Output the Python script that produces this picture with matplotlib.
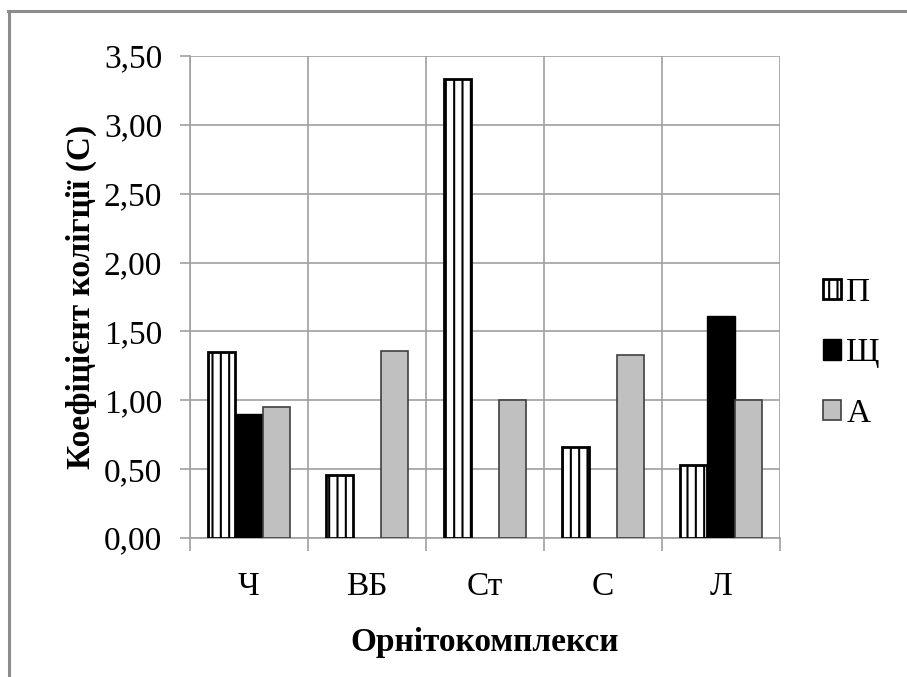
import numpy as np
import matplotlib.pyplot as plt
from matplotlib.lines import Line2D

plt.rcParams['font.family'] = ['Liberation Serif', 'DejaVu Serif']
plt.rcParams['hatch.linewidth'] = 1.5

categories = ['Ч', 'ВБ', 'Ст', 'С', 'Л']
series_names = ['П', 'Щ', 'А']
p_vals = [1.35, 0.46, 3.33, 0.66, 0.53]
sh_vals = [0.90, 0.00, 0.00, 0.00, 1.61]
a_vals = [0.95, 1.36, 1.00, 1.33, 1.00]

fig = plt.figure(figsize=(9.07, 6.77), dpi=100)
ax = fig.add_axes([190 / 907, 1 - 538 / 677, 590 / 907, 482 / 677])

# outer frame (top and left only, the rest is cut off)
fig.add_artist(Line2D([9 / 907, 9 / 907], [0, 1 - 11 / 677], transform=fig.transFigure, color='#8c8c8c', lw=2.2))
fig.add_artist(Line2D([8 / 907, 1], [1 - 11 / 677, 1 - 11 / 677], transform=fig.transFigure, color='#8c8c8c', lw=2.2))

x = np.arange(len(categories))
w = 0.23
ax.bar(x - w, p_vals, w, color='white', edgecolor='black', linewidth=2, hatch='||', label=series_names[0], zorder=3)
ax.bar(x, sh_vals, w, color='black', edgecolor='black', linewidth=1, label=series_names[1], zorder=3)
ax.bar(x + w, a_vals, w, color='#c0c0c0', edgecolor='#404040', linewidth=1.2, label=series_names[2], zorder=3)

ax.set_xlim(-0.5, len(categories) - 0.5)
ax.set_ylim(0, 3.5)
yt = np.arange(0, 3.51, 0.5)
ax.set_yticks(yt)
ax.set_yticklabels([f'{v:.2f}'.replace('.', ',') for v in yt], fontsize=24)
ax.set_xticks(x)
ax.set_xticklabels(categories, fontsize=24)
ax.set_xticks(np.arange(-0.5, len(categories)), minor=True)
ax.tick_params(axis='x', which='major', length=0, pad=24)
ax.tick_params(axis='x', which='minor', length=9, color='#a0a0a0', width=1.2)
ax.tick_params(axis='y', length=7, color='#a0a0a0', width=1.2, pad=13)

ax.grid(axis='y', color='#a0a0a0', lw=1.2, zorder=0)
ax.grid(axis='x', which='minor', color='#a0a0a0', lw=1.2, zorder=0)
for s in ['top', 'right']:
    ax.spines[s].set_visible(False)
for s in ['left', 'bottom']:
    ax.spines[s].set_color('#a0a0a0')
    ax.spines[s].set_linewidth(1.2)

ax.set_ylabel('Коефіцієнт колігції (С)', fontsize=24, fontweight='bold', labelpad=5)
ax.set_xlabel('Орнітокомплекси', fontsize=24, fontweight='bold', labelpad=18)

ax.legend(loc='center left', bbox_to_anchor=(823 / 907, 1 - 353 / 677), bbox_transform=fig.transFigure,
          frameon=False, fontsize=24, borderpad=0, borderaxespad=0,
          handlelength=0.55, handleheight=0.55, handletextpad=0.15, labelspacing=0.9)

fig.savefig('out.png', dpi=100)
